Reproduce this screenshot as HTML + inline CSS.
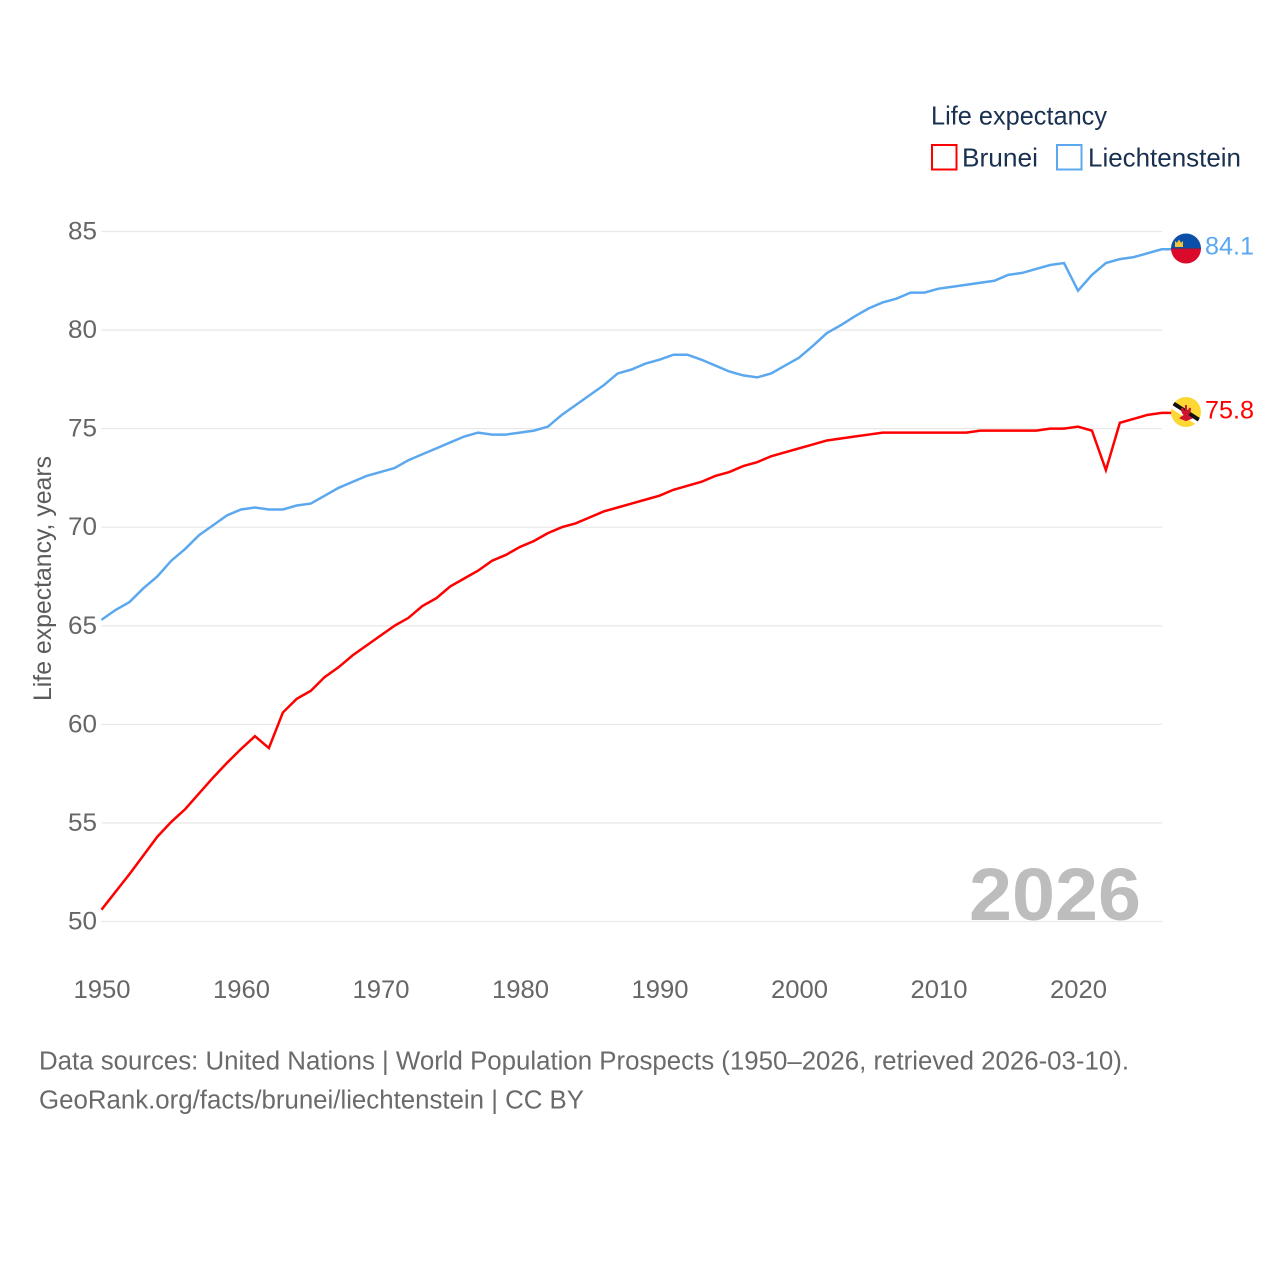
<!DOCTYPE html>
<html lang="en">
<head>
<meta charset="utf-8">
<title>Life expectancy: Brunei and Liechtenstein</title>
<style>
html,body{margin:0;padding:0;background:#fff}
svg{display:block}
text{font-family:"Liberation Sans",sans-serif}
</style>
</head>
<body>
<svg id="chart" width="1280" height="1280" viewBox="0 0 1280 1280" xmlns="http://www.w3.org/2000/svg">
  <defs>
    <clipPath id="clip-li"><circle cx="1186" cy="248.5" r="15"/></clipPath>
    <clipPath id="clip-bn"><circle cx="1186" cy="412" r="15"/></clipPath>
  </defs>
  <rect x="0" y="0" width="1280" height="1280" fill="#fff"/>
  <g id="grid"></g>
  <g id="yticks"></g>
  <g id="xticks"></g>
  <text transform="translate(51,701) rotate(-90)" font-size="25" fill="#5b5b5b" textLength="245" lengthAdjust="spacingAndGlyphs">Life expectancy, years</text>
  <text x="969" y="920" font-size="74" font-weight="700" fill="#bdbdbd" textLength="172" lengthAdjust="spacingAndGlyphs">2026</text>
  <g id="series"></g>

  <g>
    <text x="931" y="124.5" font-size="26" fill="#1a3050" textLength="176" lengthAdjust="spacingAndGlyphs">Life expectancy</text>
    <g>
      <rect x="932" y="145" width="24.5" height="24.5" fill="#fff" stroke="#ff0000" stroke-width="2"/>
      <text x="962" y="166.5" font-size="26" fill="#1a3050" textLength="76" lengthAdjust="spacingAndGlyphs">Brunei</text>
    </g>
    <g>
      <rect x="1057" y="145" width="24.5" height="24.5" fill="#fff" stroke="#5ba8ef" stroke-width="2"/>
      <text x="1088" y="166.5" font-size="26" fill="#1a3050" textLength="153" lengthAdjust="spacingAndGlyphs">Liechtenstein</text>
    </g>
  </g>

  <g clip-path="url(#clip-li)">
    <rect x="1170" y="233" width="32" height="16" fill="#0b4fa8"/>
    <rect x="1170" y="249" width="32" height="16" fill="#dc0a2a"/>
    <rect x="1170" y="248" width="32" height="1.2" fill="#6e2a55"/>
    <path d="M1175 247v-6l2 1.8 2-3.3 2 3.3 2-1.8v6z" fill="#f3c53c"/>
  </g>
  <g clip-path="url(#clip-bn)">
    <rect x="1170" y="396" width="32" height="32" fill="#fdd835"/>
    <path d="M1168 403.500 L1204 426.500" stroke="#fff" stroke-width="5"/>
    <path d="M1168 400 L1204 423" stroke="#111" stroke-width="4"/>
    <path d="M1186 405v11M1181 418q5 -5 10 0l-5 2zM1182 408q0 6 4 7q4 -1 4 -7q-1 4 -4 4q-3 0 -4 -4z" stroke="#d0142c" stroke-width="2" fill="#d0142c"/>
  </g>
  <text id="value-li" x="1205" y="254.500" font-size="25" fill="#5ba8ef" textLength="49" lengthAdjust="spacingAndGlyphs"></text>
  <text id="value-bn" x="1205" y="418.500" font-size="25" fill="#ff0000" textLength="49" lengthAdjust="spacingAndGlyphs"></text>

  <g>
    <text x="39" y="1069.500" font-size="25.5" fill="#6a6a6a" textLength="1090" lengthAdjust="spacingAndGlyphs">Data sources: United Nations | World Population Prospects (1950–2026, retrieved 2026-03-10).</text>
    <text x="39" y="1108.500" font-size="25.5" fill="#6a6a6a" textLength="545" lengthAdjust="spacingAndGlyphs">GeoRank.org/facts/brunei/liechtenstein | CC BY</text>
  </g>
</svg>
<script>
const startYear = 1950;
const xTickYears = [1950, 1960, 1970, 1980, 1990, 2000, 2010, 2020];
const yTickValues = [50, 55, 60, 65, 70, 75, 80, 85];
const bruneiSeries = [
  50.6, 51.5, 52.4, 53.35, 54.3, 55.05, 55.7, 56.5, 57.3, 58.05,
  58.75, 59.4, 58.8, 60.6, 61.3, 61.7, 62.4, 62.9, 63.5, 64.0,
  64.5, 65.0, 65.4, 66.0, 66.4, 67.0, 67.4, 67.8, 68.3, 68.6,
  69.0, 69.3, 69.7, 70.0, 70.2, 70.5, 70.8, 71.0, 71.2, 71.4,
  71.6, 71.9, 72.1, 72.3, 72.6, 72.8, 73.1, 73.3, 73.6, 73.8,
  74.0, 74.2, 74.4, 74.5, 74.6, 74.7, 74.8, 74.8, 74.8, 74.8,
  74.8, 74.8, 74.8, 74.9, 74.9, 74.9, 74.9, 74.9, 75.0, 75.0,
  75.1, 74.9, 72.9, 75.3, 75.5, 75.7, 75.8
];
const liechtensteinSeries = [
  65.3, 65.8, 66.2, 66.9, 67.5, 68.3, 68.9, 69.6, 70.1, 70.6,
  70.9, 71.0, 70.9, 70.9, 71.1, 71.2, 71.6, 72.0, 72.3, 72.6,
  72.8, 73.0, 73.4, 73.7, 74.0, 74.3, 74.6, 74.8, 74.7, 74.7,
  74.8, 74.9, 75.1, 75.7, 76.2, 76.7, 77.2, 77.8, 78.0, 78.3,
  78.5, 78.75, 78.75, 78.5, 78.2, 77.9, 77.7, 77.6, 77.8, 78.2,
  78.6, 79.2, 79.85, 80.25, 80.7, 81.1, 81.4, 81.6, 81.9, 81.9,
  82.1, 82.2, 82.3, 82.4, 82.5, 82.8, 82.9, 83.1, 83.3, 83.4,
  82.0, 82.8, 83.4, 83.6, 83.7, 83.9, 84.1
];

const NS = 'http://www.w3.org/2000/svg';
function xScale(year) { return 101.5 + (year - 1950) * 13.95; }
function yScale(v) { return 921.5 - (v - 50) * 19.714; }
function make(tag, attrs, parent) {
  const el = document.createElementNS(NS, tag);
  for (const k in attrs) el.setAttribute(k, attrs[k]);
  parent.appendChild(el);
  return el;
}

const grid = document.getElementById('grid');
const yticks = document.getElementById('yticks');
const xticks = document.getElementById('xticks');
const series = document.getElementById('series');

yTickValues.forEach(function (v) {
  const line = make('line', { x1: 101.5, x2: 1162, y1: yScale(v), y2: yScale(v), stroke: '#e9e9e9', 'stroke-width': 1.3 }, grid);
  
  
  const t = make('text', { x: 97, y: yScale(v) + 8, 'text-anchor': 'end', 'font-size': 25, fill: '#666', textLength: 29, lengthAdjust: 'spacingAndGlyphs' }, yticks);
  
  
  t.textContent = v;
});

xTickYears.forEach(function (y) {
  const t = make('text', { x: xScale(y) - 28, y: 998, 'font-size': 25, fill: '#666', textLength: 57, lengthAdjust: 'spacingAndGlyphs' }, xticks);
  
  
  t.textContent = y;
});

function drawSeries(values, colour) {
  const pts = values.map(function (v, i) { return xScale(startYear + i) + ',' + yScale(v); });
  const last = values[values.length - 1];
  pts.push('1172,' + yScale(last));
  return make('polyline', { points: pts.join(' '), fill: 'none', stroke: colour, 'stroke-width': 2.5, 'stroke-linejoin': 'miter' }, series);
}

const lineLi = drawSeries(liechtensteinSeries, '#5ba8ef');


const lineBn = drawSeries(bruneiSeries, '#ff0000');



document.getElementById('value-li').textContent = liechtensteinSeries[liechtensteinSeries.length - 1].toFixed(1);
document.getElementById('value-bn').textContent = bruneiSeries[bruneiSeries.length - 1].toFixed(1);
</script>
</body>
</html>
